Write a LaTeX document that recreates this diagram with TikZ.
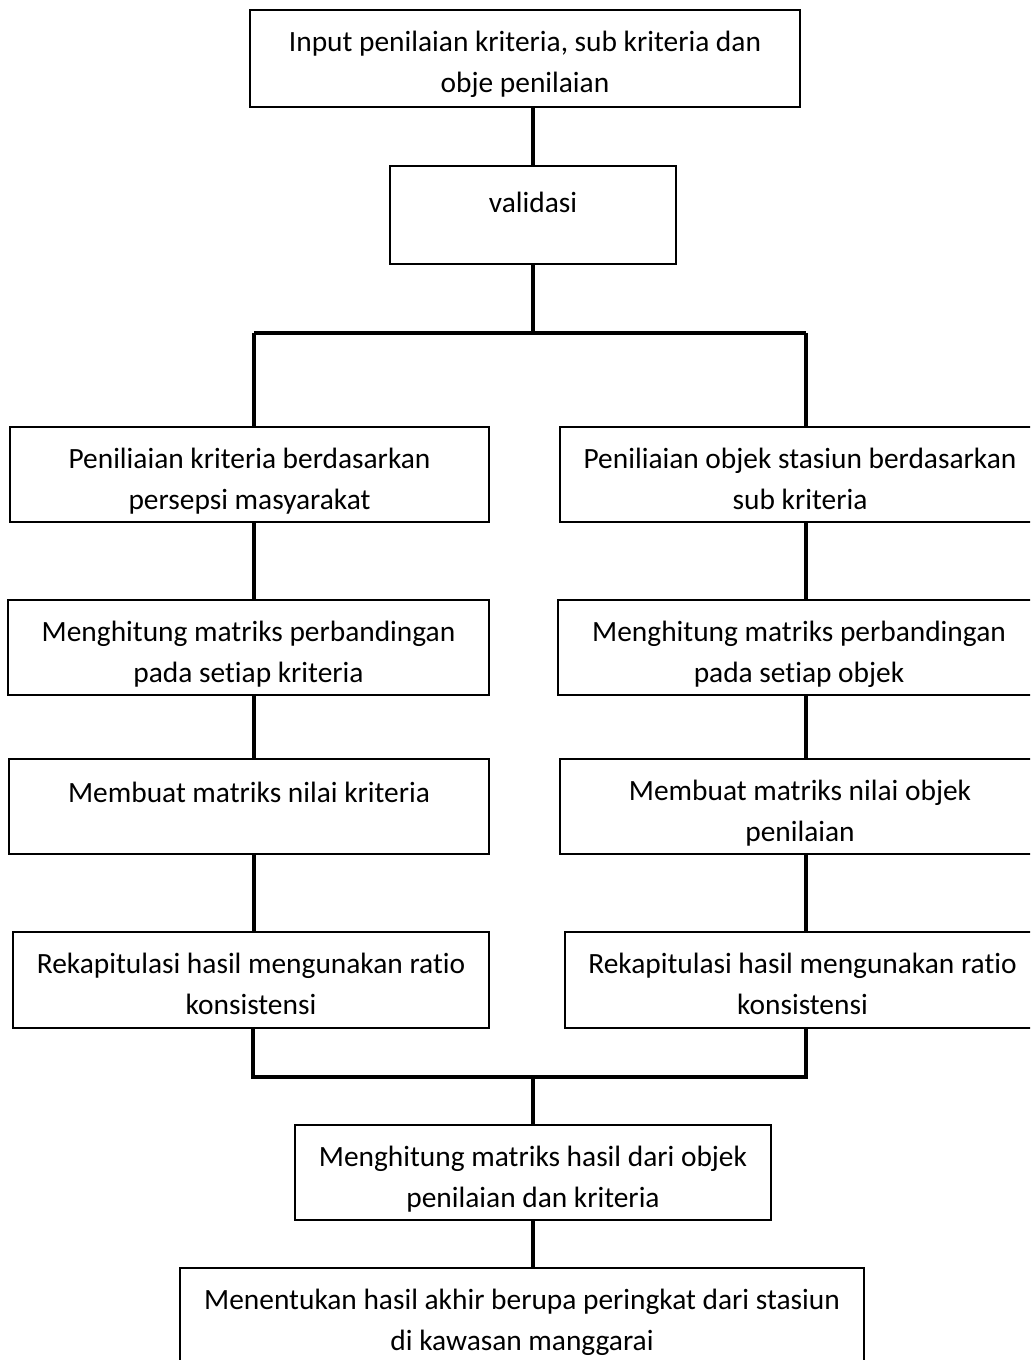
\documentclass[tikz,border=0pt]{standalone}
\usepackage{fontspec}
\setmainfont{Carlito}[Ligatures={NoCommon}]
\tikzset{
  flowbox/.style={draw=black, line width=1.2pt, rectangle, inner sep=0pt, outer sep=0pt},
  flowtext/.style={font=\fontsize{14.7}{20.5}\selectfont, align=center, inner sep=0pt, anchor=north},
  link/.style={line width=1.8pt}
}
\newcommand{\flowstep}[7][21]{%
  \node[flowbox, minimum width={(#5-#3)*0.5pt}, minimum height={(#6-#4)*0.5pt}] (#2) at ({(#3+#5)/2},{(#4+#6)/2}) {};
  \node[flowtext] (#2t) at ({(#3+#5)/2},{#4+#1}) {#7};
}
\begin{document}
\begin{tikzpicture}[x=0.5pt,y=-0.5pt]
\useasboundingbox (0,0) rectangle (1030,1360);
\begin{scope}
\clip (0,0) rectangle (1030,1360);
\flowstep{top}{250}{10}{800}{107}{Input penilaian kriteria, sub kriteria dan\\obje penilaian}
\flowstep[26]{val}{390}{166}{676}{264}{validasi}
\flowstep{L1}{10}{427}{489}{522}{Peniliaian kriteria berdasarkan\\persepsi masyarakat}
\flowstep{R1}{560}{427}{1040}{522}{Peniliaian objek stasiun berdasarkan\\sub kriteria}
\flowstep{L2}{8}{600}{489}{695}{Menghitung matriks perbandingan\\pada setiap kriteria}
\flowstep{R2}{558}{600}{1040}{695}{Menghitung matriks perbandingan\\pada setiap objek}
\flowstep[23]{L3}{9}{759}{489}{854}{Membuat matriks nilai kriteria}
\flowstep{R3}{560}{759}{1040}{854}{Membuat matriks nilai objek\\penilaian}
\flowstep{L4}{13}{932}{489}{1028}{Rekapitulasi hasil mengunakan ratio\\konsistensi}
\flowstep{R4}{565}{932}{1040}{1028}{Rekapitulasi hasil mengunakan ratio\\konsistensi}
\flowstep{mid}{295}{1125}{771}{1220}{Menghitung matriks hasil dari objek\\penilaian dan kriteria}
\flowstep{fin}{180}{1268}{864}{1380}{Menentukan hasil akhir berupa peringkat dari stasiun\\di kawasan manggarai}

\coordinate (splitL) at (254,333);
\coordinate (splitR) at (806,333);
\coordinate (joinL) at (253,1077);
\coordinate (joinR) at (806,1077);

\draw[link] (top.south -| val.north) -- (val.north);
\draw[link] (val.south) -- (val.south |- splitL);
\draw[link] (splitL) -- (splitR);
\draw[link] (splitL) -- (splitL |- L1.north);
\draw[link] (splitR) -- (splitR |- R1.north);
\draw[link] (L1.south -| splitL) -- (L2.north -| splitL);
\draw[link] (L2.south -| splitL) -- (L3.north -| splitL);
\draw[link] (L3.south -| splitL) -- (L4.north -| splitL);
\draw[link] (R1.south -| splitR) -- (R2.north -| splitR);
\draw[link] (R2.south -| splitR) -- (R3.north -| splitR);
\draw[link] (R3.south -| splitR) -- (R4.north -| splitR);
\draw[link] (L4.south -| joinL) -- (joinL) -- (joinR) -- (R4.south -| joinR);
\draw[link] (mid.north |- joinL) -- (mid.north);
\draw[link] (mid.south) -- (fin.north -| mid.south);
\end{scope}
\end{tikzpicture}
\end{document}
